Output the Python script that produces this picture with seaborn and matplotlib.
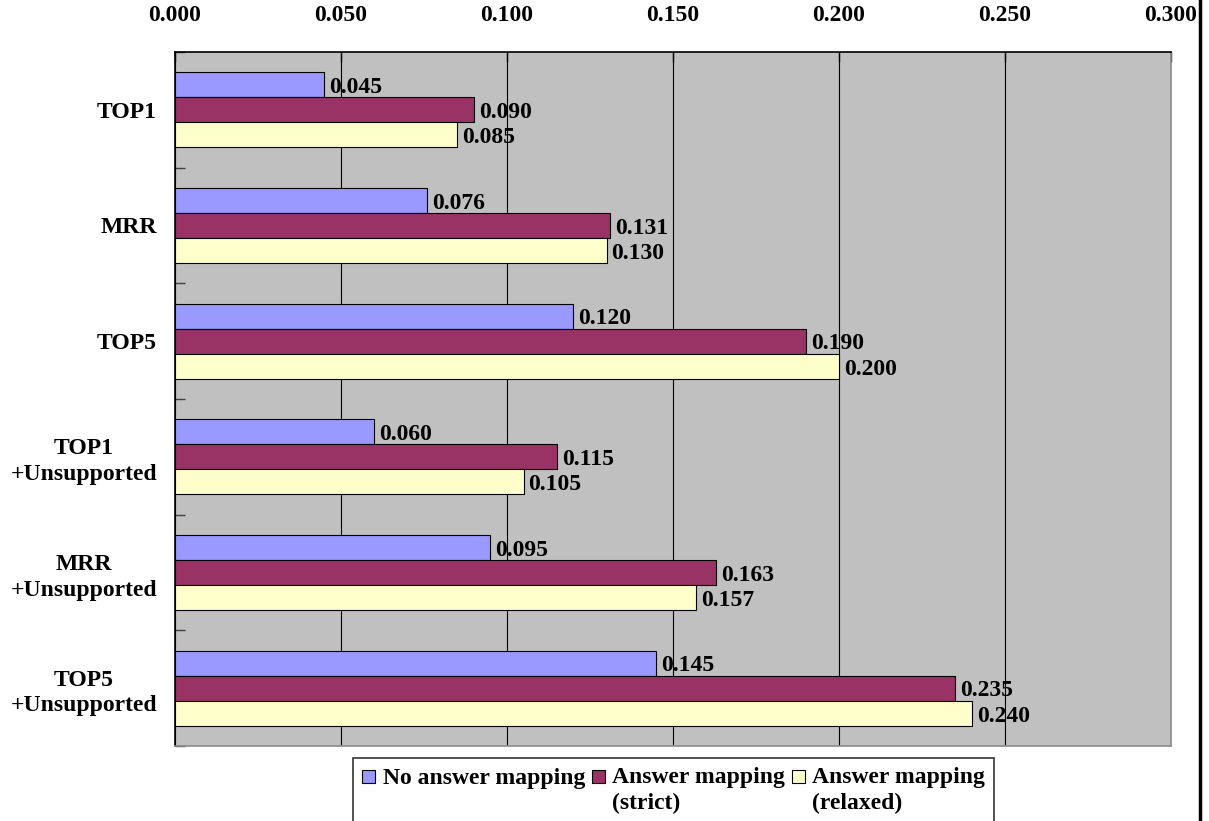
import numpy as np
import pandas as pd
import matplotlib
matplotlib.use("Agg")
import matplotlib.pyplot as plt
from matplotlib.patches import Patch, Rectangle
from matplotlib.lines import Line2D
from matplotlib.legend_handler import HandlerPatch
import seaborn as sns

plt.rcParams["font.family"] = ["Liberation Serif", "DejaVu Serif"]
plt.rcParams["font.weight"] = "bold"

# Evaluation metrics (rows) and the three answer-mapping settings (series)
metrics = ["TOP1", "MRR", "TOP5",
           "TOP1\n+Unsupported", "MRR\n+Unsupported", "TOP5\n+Unsupported"]
series = ["No answer mapping", "Answer mapping\n(strict)", "Answer mapping\n(relaxed)"]
no_mapping = [0.045, 0.076, 0.120, 0.060, 0.095, 0.145]
strict_mapping = [0.090, 0.131, 0.190, 0.115, 0.163, 0.235]
relaxed_mapping = [0.085, 0.130, 0.200, 0.105, 0.157, 0.240]
x_ticks = [0.000, 0.050, 0.100, 0.150, 0.200, 0.250, 0.300]
colors = ["#9999FF", "#993366", "#FFFFCC"]

df = pd.DataFrame({
    "metric": metrics * 3,
    "series": [series[0]] * 6 + [series[1]] * 6 + [series[2]] * 6,
    "value": no_mapping + strict_mapping + relaxed_mapping,
})

FS = 17
fig = plt.figure(figsize=(12.09, 8.21), dpi=100)
ax = fig.add_axes([175 / 1209, 1 - 746 / 821, (1171 - 175) / 1209, (746 - 52) / 821])
ax.set_facecolor("#C0C0C0")

sns.barplot(data=df, x="value", y="metric", hue="series", orient="h",
            order=metrics, hue_order=series, palette=colors, saturation=1,
            width=0.65, edgecolor="black", linewidth=0.8,
            errorbar=None, legend=False, ax=ax)

for cont in ax.containers:
    anns = ax.bar_label(cont, fmt="%.3f", padding=3.5, fontsize=FS, fontweight="bold")
    for a in anns:
        a.xyann = (3.5, -2)

ax.set_xlim(0, 0.3)
ax.set_ylim(5.5, -0.5)
ax.set_xlabel("")
ax.set_ylabel("")
ax.set_xticks(x_ticks)
ax.set_xticklabels([f"{v:.3f}" for v in x_ticks], fontsize=FS, fontweight="bold")
ax.xaxis.tick_top()
ax.tick_params(axis="x", top=True, bottom=False, labeltop=True, labelbottom=False,
               direction="in", length=7, width=1, color="black", pad=19)
ax.grid(axis="x", color="black", linewidth=0.8)
ax.set_axisbelow(True)

ax.set_yticks(range(len(metrics)))
ax.set_yticklabels(metrics, fontsize=FS, fontweight="bold")
for t in ax.get_yticklabels():
    t.set_multialignment("center")
    t.set_linespacing(1.3)
ax.tick_params(axis="y", which="major", length=0, pad=13)
ax.set_yticks(np.arange(-0.5, len(metrics), 1.0), minor=True)
ax.tick_params(axis="y", which="minor", direction="in", length=7, width=1, color="#404040")

for side in ["top", "left"]:
    ax.spines[side].set_color("black")
    ax.spines[side].set_linewidth(1.2)
for side in ["right", "bottom"]:
    ax.spines[side].set_color("#8c8c8c")
    ax.spines[side].set_linewidth(1.2)


# Legend swatches sit on the first line of each two-line entry
def top_square(legend, orig_handle, xdescent, ydescent, width, height, fontsize):
    return Rectangle((-xdescent, -ydescent + 0.62 * fontsize), width, width)


handles = [Patch(facecolor=c, edgecolor="black", linewidth=0.8) for c in colors]
labels = ["No answer mapping\n ", series[1], series[2]]
leg = fig.legend(handles, labels, loc="upper left",
                 bbox_to_anchor=(353 / 1209, 1 - 758 / 821),
                 ncol=3, fontsize=FS, frameon=True, fancybox=False,
                 borderaxespad=0, borderpad=0.4, handlelength=0.55, handleheight=0.55,
                 handletextpad=0.3, columnspacing=0.3,
                 handler_map={Patch: HandlerPatch(patch_func=top_square)})
leg.get_frame().set_edgecolor("black")
leg.get_frame().set_linewidth(1.2)
for t in leg.get_texts():
    t.set_fontweight("bold")
    t.set_linespacing(1.3)

fig.add_artist(Line2D([1199.5 / 1209] * 2, [0, 1], transform=fig.transFigure,
                      color="black", linewidth=2.5))

fig.savefig("out.png", dpi=100, facecolor="white")
